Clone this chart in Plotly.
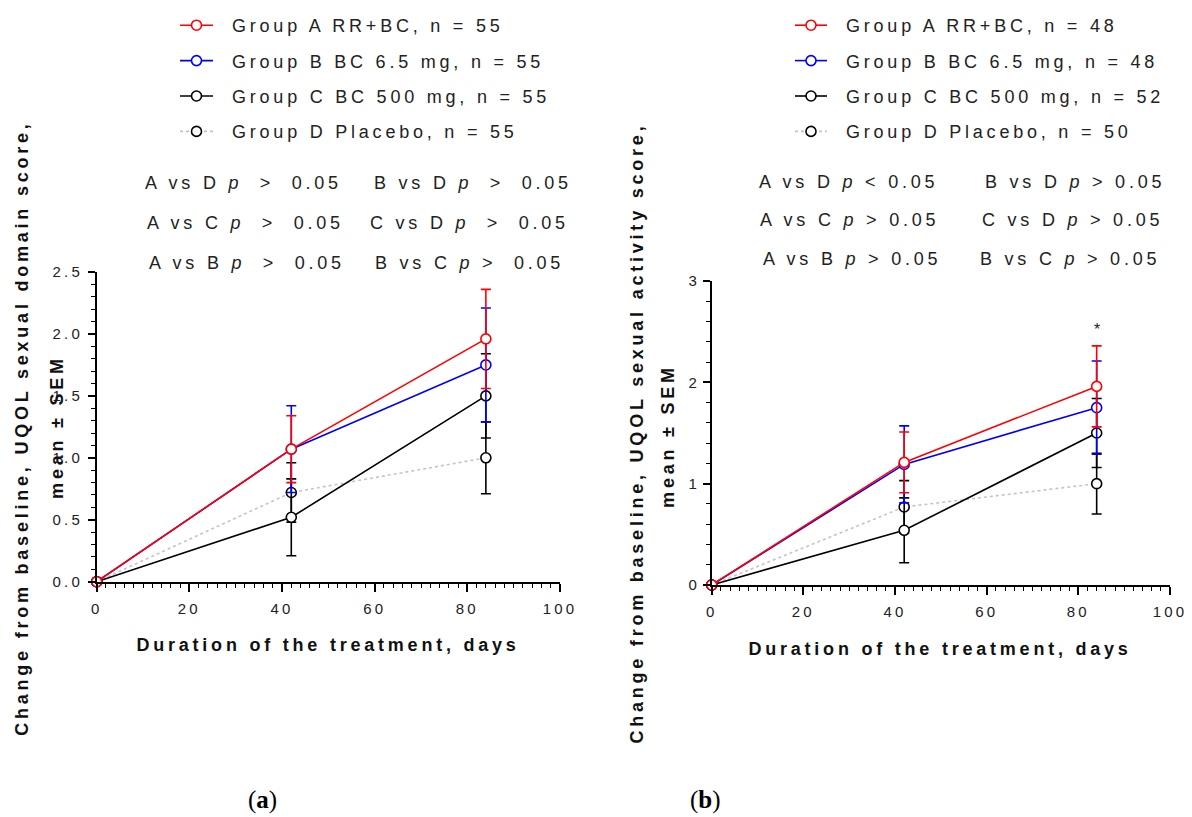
import plotly.graph_objects as go

W, H = 1192, 817

# ---------------- data ----------------
days = [0, 42, 84]

# panel (a): UQOL sexual domain score
a_names = ["Group A RR+BC, n = 55", "Group B BC 6.5 mg, n = 55",
           "Group C BC 500 mg, n = 55", "Group D Placebo, n = 55"]
a_mean_A = [0, 1.07, 1.96]
a_sem_A = [0, 0.27, 0.40]
a_mean_B = [0, 1.07, 1.75]
a_sem_B = [0, 0.35, 0.46]
a_mean_C = [0, 0.52, 1.50]
a_sem_C = [0, 0.31, 0.34]
a_mean_D = [0, 0.72, 1.00]
a_sem_D = [0, 0.24, 0.29]

# panel (b): UQOL sexual activity score
b_names = ["Group A RR+BC, n = 48", "Group B BC 6.5 mg, n = 48",
           "Group C BC 500 mg, n = 52", "Group D Placebo, n = 50"]
b_mean_A = [0, 1.21, 1.96]
b_sem_A = [0, 0.30, 0.40]
b_mean_B = [0, 1.19, 1.75]
b_sem_B = [0, 0.38, 0.46]
b_mean_C = [0, 0.54, 1.50]
b_sem_C = [0, 0.32, 0.34]
b_mean_D = [0, 0.77, 1.00]
b_sem_D = [0, 0.26, 0.30]

a_pvals = ["A vs D <i>p</i>\u00a0 &gt; \u00a00.05", "B vs D <i>p</i>\u00a0 &gt; \u00a00.05",
           "A vs C <i>p</i>\u00a0 &gt; \u00a00.05", "C vs D <i>p</i>\u00a0 &gt; \u00a00.05",
           "A vs B <i>p</i>\u00a0 &gt; \u00a00.05", "B vs C <i>p</i> &gt; \u00a00.05"]
b_pvals = ["A vs D <i>p</i> &lt; 0.05", "B vs D <i>p</i> &gt; 0.05",
           "A vs C <i>p</i> &gt; 0.05", "C vs D <i>p</i> &gt; 0.05",
           "A vs B <i>p</i> &gt; 0.05", "B vs C <i>p</i> &gt; 0.05"]

a_ytitle = "Change from baseline, UQOL sexual domain score,"
b_ytitle = "Change from baseline, UQOL sexual activity score,"
ytitle2 = "mean \u00b1 SEM"
xtitle = "Duration of the treatment, days"

# ---------------- styles ----------------
FONT = "Liberation Sans, Arial, sans-serif"
px = lambda x: x / W
py = lambda y: 1 - y / H

line_col = {"A": "#ff0000", "B": "#0000ff", "C": "#000000", "D": "#c4c4c4"}
mark_col = {"A": "#ff0000", "B": "#0000ff", "C": "#000000", "D": "#000000"}
dash = {"A": "solid", "B": "solid", "C": "solid", "D": "dot"}
rank = {"A": 1, "B": 2, "C": 3, "D": 4}

fig = go.Figure()


def add_panel(names, means, sems, xa, ya, leg, tag):
    for g in ["D", "C", "B", "A"]:
        i = rank[g] - 1
        fig.add_trace(go.Scatter(
            x=days, y=means[g], name=names[i],
            mode="lines+markers",
            line=dict(color=line_col[g], width=1.6, dash=dash[g]),
            marker=dict(symbol="circle", size=10, color="white",
                        line=dict(color=mark_col[g], width=1.6)),
            error_y=dict(type="data", array=sems[g], symmetric=True,
                         color=mark_col[g], thickness=1.6, width=5),
            xaxis=xa, yaxis=ya, legend=leg, legendrank=rank[g],
            legendgroup=tag + g, cliponaxis=False,
        ))


add_panel(a_names,
          {"A": a_mean_A, "B": a_mean_B, "C": a_mean_C, "D": a_mean_D},
          {"A": a_sem_A, "B": a_sem_B, "C": a_sem_C, "D": a_sem_D},
          "x", "y", "legend", "a")
add_panel(b_names,
          {"A": b_mean_A, "B": b_mean_B, "C": b_mean_C, "D": b_mean_D},
          {"A": b_sem_A, "B": b_sem_B, "C": b_sem_C, "D": b_sem_D},
          "x2", "y2", "legend2", "b")

axis_common = dict(showline=True, linecolor="black", linewidth=1.6, ticks="outside",
                   tickcolor="black", tickwidth=1.6, showgrid=False, zeroline=False,
                   automargin=False,
                   tickfont=dict(family=FONT, size=15, color="#222222"))

leg_common = dict(font=dict(family=FONT, size=18, color="#222222"), bgcolor="rgba(0,0,0,0)",
                  borderwidth=0, tracegroupgap=9, traceorder="grouped",
                  xanchor="left", yanchor="top", itemclick=False)

fig.update_layout(
    width=W, height=H, autosize=False,
    margin=dict(l=0, r=0, t=0, b=0, autoexpand=False),
    paper_bgcolor="white", plot_bgcolor="white",
    showlegend=True,
    xaxis=dict(domain=[px(96.7), px(560)], range=[0, 100], dtick=20, tick0=0, ticklen=8,
               ticklabelstandoff=4,
               minor=dict(dtick=2, ticklen=4, ticks="outside", tickcolor="black", tickwidth=1.3),
               anchor="y", **axis_common),
    yaxis=dict(domain=[py(581.7), py(272)], range=[0, 2.5], dtick=0.5, tick0=0, ticklen=7,
               tickformat=".1f", ticklabelstandoff=2,
               minor=dict(dtick=0.1, ticklen=4, ticks="outside", tickcolor="black", tickwidth=1.3),
               anchor="x", **axis_common),
    xaxis2=dict(domain=[px(711.7), px(1170)], range=[0, 100], dtick=20, tick0=0, ticklen=8,
                ticklabelstandoff=4,
                minor=dict(dtick=2, ticklen=4, ticks="outside", tickcolor="black", tickwidth=1.3),
                anchor="y2", **axis_common),
    yaxis2=dict(domain=[py(585), py(281)], range=[0, 3], dtick=1, tick0=0, ticklen=7,
                ticklabelstandoff=0,
                minor=dict(dtick=0.2, ticklen=4, ticks="outside", tickcolor="black", tickwidth=1.3),
                anchor="x2", **axis_common),
    legend=dict(x=px(175), y=py(7), itemwidth=33, **leg_common),
    legend2=dict(x=px(790), y=py(7), itemwidth=32, **leg_common),
)

ann = []
txt = dict(family=FONT, size=18, color="#222222")
bold = dict(family=FONT, size=18, color="#111111", weight="bold")

# p-value rows
a_pos = [(143, 183), (372, 183), (145, 223), (368, 223), (147, 263), (373, 263)]
b_pos = [(757, 182), (983, 182), (758, 220), (980, 220), (761, 259), (978, 259)]
for t, (x, y) in zip(a_pvals, a_pos):
    ann.append(dict(text=t, x=px(x), y=py(y), xref="paper", yref="paper",
                    xanchor="left", yanchor="middle", showarrow=False, font=txt, align="left"))
for t, (x, y) in zip(b_pvals, b_pos):
    ann.append(dict(text=t, x=px(x), y=py(y), xref="paper", yref="paper",
                    xanchor="left", yanchor="middle", showarrow=False, font=txt, align="left"))

# axis titles
for t, x, y in [(a_ytitle, 22, 428), (ytitle2, 57, 427), (b_ytitle, 637, 433), (ytitle2, 668, 436)]:
    ann.append(dict(text=t, x=px(x), y=py(y), xref="paper", yref="paper", textangle=-90,
                    xanchor="center", yanchor="middle", showarrow=False, font=bold))
for x, y in [(328, 645), (940, 649)]:
    ann.append(dict(text=xtitle, x=px(x), y=py(y), xref="paper", yref="paper",
                    xanchor="center", yanchor="middle", showarrow=False, font=bold))

# significance marker (index 18)
ann.append(dict(text="*", x=84, y=2.52, xref="x2", yref="y2", showarrow=False,
                font=dict(family=FONT, size=16, color="#222222")))

# panel labels (index 19, 20)
for t, x in [("(<b>a</b>)", 262), ("(<b>b</b>)", 705)]:
    ann.append(dict(text=t, x=px(x), y=py(800), xref="paper", yref="paper",
                    xanchor="center", yanchor="middle", showarrow=False,
                    font=dict(family="Liberation Serif, DejaVu Serif, serif", size=25, color="black")))

fig.update_layout(annotations=ann)

css = (
    "html,body{margin:0 !important;padding:0 !important;overflow:hidden;}"
    ".js-plotly-plot .main-svg text{letter-spacing:0.21em;}"
    ".js-plotly-plot .annotation[data-index='18'] text,"
    ".js-plotly-plot .annotation[data-index='19'] text,"
    ".js-plotly-plot .annotation[data-index='20'] text{letter-spacing:0 !important;}"
    ".js-plotly-plot .legendtext,.js-plotly-plot .legend2text{transform:translate(14px,0px);}"
    ".js-plotly-plot .scrollbox{clip-path:none !important;}"
)
post = """
var st = document.createElement('style');
st.textContent = "%s";
document.head.appendChild(st);
""" % css

fig.write_html("out.html", post_script=post, config={"displayModeBar": False})
